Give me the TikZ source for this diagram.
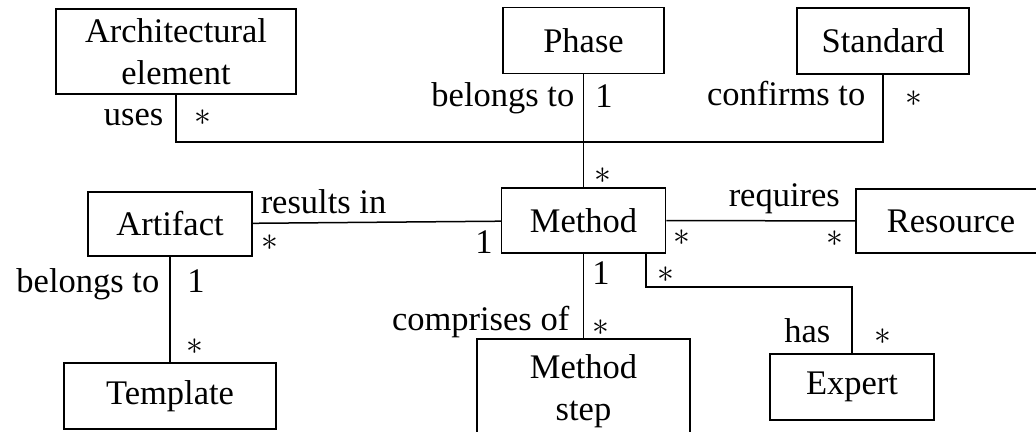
\documentclass[tikz,border=0pt]{standalone}
\usepackage{graphicx}
\usepackage{fontspec}
\setmainfont{Liberation Serif}

\newcommand\many{\scalebox{1.35}{$\ast$}}

\begin{document}
\begin{tikzpicture}[x=1pt, y=-1pt, line width=1.5pt,
  font=\fontsize{34.5}{42}\selectfont,
  class/.style={draw, inner sep=0pt, align=center},
  role/.style={inner sep=0pt, anchor=base east},
  mult/.style={inner sep=0pt}]
  \useasboundingbox (0,0) rectangle (1036,431);
  \clip (0,0) rectangle (1036,431);

  % classes
  \node[class, minimum width=240pt, minimum height=85pt] (arch) at (176,51.5) {Architectural\\element};
  \node[class, minimum width=161pt, minimum height=66pt] (phase) at (583.5,40.5) {Phase};
  \node[class, minimum width=172pt, minimum height=66pt] (standard) at (883,41) {Standard};
  \node[class, minimum width=164pt, minimum height=65pt] (method) at (583.5,220.5) {Method};
  \node[class, minimum width=190pt, minimum height=64pt] (resource) at (951,221) {Resource};
  \node[class, minimum width=164pt, minimum height=64pt] (artifact) at (170,224) {Artifact};
  \node[class, minimum width=212pt, minimum height=66pt] (template) at (170,396) {Template};
  \node[class, minimum width=213pt, minimum height=104pt] (mstep) at (583.5,391) {Method\\step};
  \node[class, minimum width=164pt, minimum height=66pt] (expert) at (852,387) {Expert};

  % bends
  \coordinate (hub) at (583.5,142);
  \coordinate (bend) at (646,287);

  % associations
  \draw (arch) |- (hub) -| (standard);
  \draw (phase) -- (method);
  \draw (artifact) -- (method);
  \draw (method) -- (resource);
  \draw (artifact) -- (template);
  \draw (method) -- (mstep);
  \draw (method.south -| bend) -- (bend) -| (expert);

  % roles
  \node[role] (r-uses) at (164,125) {uses};
  \node[role] (r-phase) at (575,106) {belongs to};
  \node[role] (r-std) at (866,105) {confirms to};
  \node[role, anchor=base west] (r-result) at (260,213) {results in};
  \node[role, anchor=base west] (r-req) at (728,206) {requires};
  \node[role] (r-tmpl) at (160,292) {belongs to};
  \node[role] (r-step) at (570,330) {comprises of};
  \node[role] (r-has) at (831,342) {has};

  % multiplicities
  \node[mult] (m-arch) at (203,118) {\many};
  \node[mult, anchor=base] (m-phase) at (604,107) {1};
  \node[mult] (m-std) at (914,99) {\many};
  \node[mult] (m-meth1) at (603,176) {\many};
  \node[mult] (m-art1) at (270,243) {\many};
  \node[mult, anchor=base] (m-meth2) at (484,253) {1};
  \node[mult] (m-meth3) at (682,238) {\many};
  \node[mult] (m-res) at (835,239) {\many};
  \node[mult, anchor=base] (m-art2) at (196,292) {1};
  \node[mult] (m-tmpl) at (195,347) {\many};
  \node[mult, anchor=base] (m-meth4) at (601,284) {1};
  \node[mult] (m-step) at (601,328) {\many};
  \node[mult] (m-meth5) at (666,275) {\many};
  \node[mult] (m-exp) at (883,337) {\many};
\end{tikzpicture}
\end{document}
